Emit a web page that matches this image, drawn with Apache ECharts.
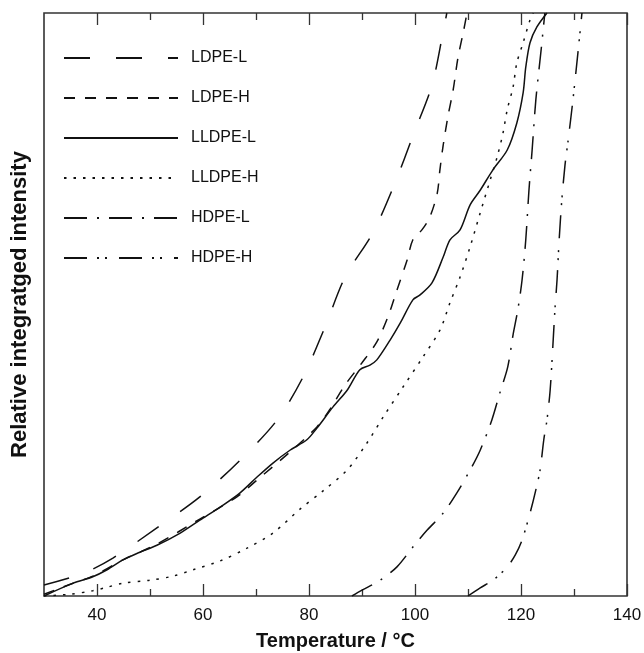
<!DOCTYPE html>
<html>
<head>
<meta charset="utf-8">
<script src="https://cdn.jsdelivr.net/npm/echarts@6/dist/echarts.min.js"></script>
<style>
html,body{margin:0;padding:0;background:#fff;}
#chart{width:644px;height:653px;}
</style>
</head>
<body>
<div id="chart"></div>
<script>
// Temperature (°C) and relative integrated intensity pairs
var ldpeL = [[30,0.019],[37.4,0.039],[43.0,0.065],[51.3,0.117],[59.4,0.170],[67.0,0.233],[74.0,0.302],[78.9,0.376],[83.0,0.461],[86.8,0.547],[92.1,0.624],[96.2,0.708],[99.8,0.794],[103.2,0.876],[105.3,0.967],[106.0,1.0]];
var ldpeH = [[30,0.003],[35.5,0.022],[39.2,0.034],[44.9,0.062],[51.3,0.089],[59.4,0.132],[66.4,0.170],[70.2,0.199],[76.4,0.247],[81.5,0.290],[84.0,0.321],[86.8,0.362],[90.0,0.400],[92.8,0.436],[94.9,0.479],[96.6,0.525],[98.5,0.576],[99.6,0.611],[101.3,0.628],[102.8,0.650],[104.2,0.691],[104.7,0.731],[105.3,0.772],[106.2,0.822],[107.2,0.868],[108.1,0.923],[109.2,0.971],[109.8,1.0]];
var lldpeL = [[30,0],[35.5,0.022],[39.2,0.033],[41.9,0.045],[44.9,0.062],[48.1,0.075],[51.3,0.087],[55.7,0.108],[59.4,0.130],[63.8,0.156],[67.0,0.177],[70.2,0.204],[73.2,0.228],[76.4,0.250],[79.6,0.268],[81.5,0.288],[84.5,0.324],[87.2,0.353],[89.6,0.388],[91.5,0.396],[92.8,0.405],[95.3,0.439],[97.2,0.468],[99.6,0.508],[100.9,0.516],[103.2,0.537],[105.3,0.581],[106.6,0.611],[108.5,0.628],[110.4,0.671],[112.3,0.696],[114.7,0.731],[117.4,0.765],[119.2,0.811],[120.4,0.863],[120.9,0.907],[121.7,0.949],[123.0,0.976],[124.9,1.0]];
var lldpeH = [[30,0],[34.9,0.003],[39.2,0.009],[41.5,0.014],[44.9,0.022],[50.0,0.027],[54.3,0.034],[58.1,0.045],[63.2,0.060],[68.3,0.082],[73.2,0.108],[78.3,0.149],[82.6,0.180],[87.2,0.216],[90.9,0.262],[94.0,0.307],[97.7,0.358],[101.5,0.410],[104.7,0.456],[106.6,0.503],[108.5,0.547],[110.4,0.599],[112.3,0.657],[114.2,0.714],[115.5,0.753],[116.6,0.794],[117.4,0.834],[118.5,0.873],[119.2,0.914],[120.4,0.949],[121.7,0.988],[122.3,1.0]];
var hdpeL = [[88.1,0],[90.0,0.010],[93.4,0.027],[96.6,0.050],[99.6,0.084],[102.3,0.113],[105.3,0.142],[107.9,0.177],[110.4,0.216],[112.3,0.250],[114.5,0.302],[116.0,0.348],[117.5,0.393],[118.5,0.448],[119.4,0.491],[120.2,0.542],[120.9,0.611],[121.5,0.696],[122.1,0.765],[122.8,0.851],[123.8,0.937],[124.5,1.0]];
var hdpeH = [[110.0,0],[112.3,0.014],[114.7,0.027],[117.4,0.050],[118.9,0.070],[120.2,0.096],[121.7,0.142],[122.8,0.182],[123.6,0.216],[124.3,0.268],[124.9,0.302],[125.5,0.353],[126.0,0.427],[126.4,0.491],[126.8,0.542],[127.2,0.611],[127.7,0.679],[128.3,0.739],[128.9,0.782],[129.8,0.851],[130.8,0.937],[131.5,1.0]];

var seriesNames = ['LDPE-L','LDPE-H','LLDPE-L','LLDPE-H','HDPE-L','HDPE-H'];
var majorTicks = [40,60,80,100,120,140];
var minorTicks = [50,70,90,110,130];

var dashTypes = [[26,26],[11,10],'solid',[2.5,7],[23,10,2,10],[23,10,2,6,2,12]];
var datasets = [ldpeL, ldpeH, lldpeL, lldpeH, hdpeL, hdpeH];

var FONT = 'Liberation Sans, Arial, sans-serif';
var chart = echarts.init(document.getElementById('chart'), null, {renderer:'canvas'});

function xAx(pos, ticks, len, labels) {
  return {
    type:'value', position: pos, min:30, max:140, interval:10,
    axisLine:{show:false},
    splitLine:{show:false},
    axisTick:{show:true, inside:true, length:len, customValues:ticks, lineStyle:{color:'#333', width:1.3}},
    axisLabel:{show:labels, customValues:majorTicks, fontSize:17, color:'#111', fontFamily:FONT, margin:11},
    name: (labels && pos==='bottom') ? 'Temperature / °C' : '',
    nameLocation:'middle', nameGap:35,
    nameTextStyle:{fontSize:20, fontWeight:'bold', color:'#111', fontFamily:FONT}
  };
}

var series = datasets.map(function(d,i){
  return {
    name: seriesNames[i], type:'line', data:d, xAxisIndex:0,
    showSymbol:false, symbol:'none', smooth:0.3, clip:true,
    itemStyle:{color:'#111'},
    lineStyle:{color:'#111', width:1.5, type:dashTypes[i]},
    animation:false
  };
});

chart.setOption({
  backgroundColor:'#fff',
  animation:false,
  grid:{left:44, right:17, top:13, bottom:57, outerBoundsMode:'none', containLabel:false, show:true, borderColor:'#333', borderWidth:1.6, backgroundColor:'transparent'},
  legend:{
    orient:'vertical', left:63, top:50, padding:0, itemWidth:114, itemHeight:14, itemGap:24,
    selectedMode:false, data:seriesNames,
    itemStyle:{opacity:0},
    textStyle:{fontSize:16, color:'#111', fontFamily:FONT, padding:[0,0,0,8]}
  },
  xAxis:[
    xAx('bottom', majorTicks, 12, true),
    xAx('bottom', minorTicks, 7, false),
    xAx('top', majorTicks, 12, false),
    xAx('top', minorTicks, 7, false)
  ],
  yAxis:{
    type:'value', min:0, max:1,
    axisLine:{show:false}, axisTick:{show:false}, axisLabel:{show:false}, splitLine:{show:false},
    name:'Relative integratged intensity', nameLocation:'middle', nameGap:13,
    nameTextStyle:{fontSize:22, fontWeight:'bold', color:'#111', fontFamily:FONT}
  },
  series: series
});
</script>
</body>
</html>
